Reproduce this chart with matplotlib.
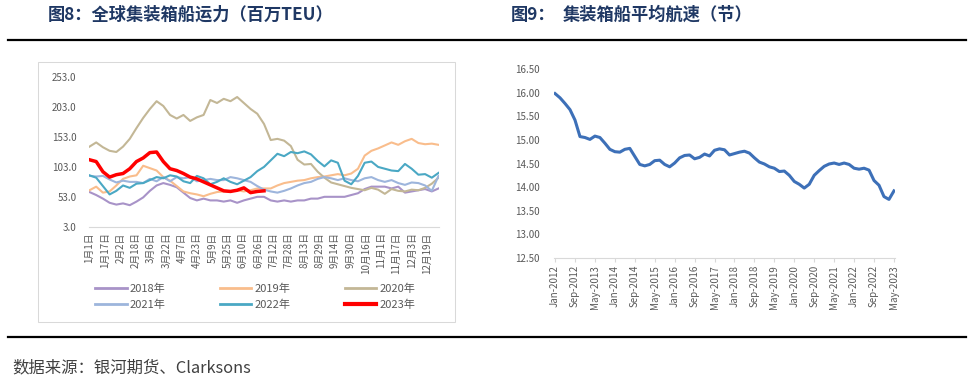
import matplotlib
matplotlib.use('Agg')
import matplotlib.pyplot as plt
from matplotlib.lines import Line2D
from matplotlib.patches import Rectangle
import numpy as np

plt.rcParams['font.family'] = ['Noto Sans CJK SC', 'DejaVu Sans']

# 全球集装箱船运力, weekly readings (百万TEU)
y2018 = [61, 56, 50, 43, 40, 42, 39, 45, 52, 63, 72, 76, 73, 69, 60, 51, 47, 50, 47, 47,
         45, 47, 43, 47, 50, 53, 53, 47, 45, 47, 45, 47, 47, 50, 50, 53, 53, 53, 53, 56,
         59, 66, 70, 70, 70, 67, 70, 60, 62, 64, 66, 62, 67]
y2019 = [64, 70, 60, 62, 72, 83, 87, 89, 105, 101, 97, 86, 80, 71, 62, 59, 57, 54, 58, 61,
         62, 62, 64, 62, 64, 67, 67, 67, 72, 76, 78, 80, 81, 84, 86, 87, 89, 91, 89, 92,
         100, 122, 130, 134, 139, 144, 140, 146, 150, 143, 141, 142, 140]
y2020 = [137, 144, 136, 130, 128, 137, 150, 168, 185, 200, 213, 205, 190, 184, 190, 180,
         186, 190, 215, 210, 217, 213, 220, 210, 200, 192, 175, 148, 150, 147, 138, 115,
         107, 108, 95, 85, 77, 74, 71, 68, 66, 64, 68, 65, 58, 66, 63, 62, 65, 64, 68, 75, 85]
y2021 = [88, 87, 88, 82, 77, 80, 78, 78, 76, 83, 79, 86, 79, 86, 84, 86, 79, 81, 83, 81,
         81, 86, 84, 81, 78, 71, 65, 62, 60, 63, 67, 72, 76, 78, 83, 86, 84, 81, 84, 81,
         79, 84, 86, 81, 78, 81, 76, 73, 77, 76, 72, 63, 88]
y2022 = [89, 85, 71, 57, 63, 72, 68, 75, 76, 81, 86, 84, 89, 87, 79, 76, 88, 84, 74, 78,
         84, 78, 74, 80, 86, 96, 103, 114, 125, 121, 128, 126, 129, 124, 113, 104, 114, 110,
         80, 74, 88, 110, 112, 103, 100, 97, 96, 108, 100, 90, 91, 85, 93]
y2023 = [115, 112, 95, 86, 90, 92, 100, 112, 118, 127, 128, 112, 100, 97, 92, 86, 83, 78,
         73, 68, 63, 62, 64, 68, 60, 62, 63]

day_labels = ['1月1日', '1月17日', '2月2日', '2月18日', '3月6日', '3月22日', '4月7日', '4月23日',
              '5月9日', '5月25日', '6月10日', '6月26日', '7月12日', '7月28日', '8月13日', '8月29日',
              '9月14日', '9月30日', '10月16日', '11月1日', '11月17日', '12月3日', '12月19日']

# 集装箱船平均航速 (节), every second month from Jan-2012
speed = [15.98, 15.89, 15.77, 15.64, 15.42, 15.07, 15.05, 15.01, 15.08, 15.05, 14.93, 14.80,
         14.75, 14.74, 14.80, 14.82, 14.65, 14.48, 14.45, 14.48, 14.56, 14.57, 14.48, 14.43,
         14.51, 14.62, 14.67, 14.68, 14.60, 14.63, 14.70, 14.66, 14.78, 14.81, 14.79, 14.68,
         14.71, 14.74, 14.76, 14.72, 14.62, 14.53, 14.49, 14.43, 14.40, 14.33, 14.34, 14.25,
         14.12, 14.06, 13.98, 14.06, 14.25, 14.35, 14.44, 14.49, 14.51, 14.48, 14.51, 14.48,
         14.40, 14.38, 14.40, 14.36, 14.14, 14.04, 13.80, 13.74, 13.92]
month_labels = ['Jan-2012', 'Sep-2012', 'May-2013', 'Jan-2014', 'Sep-2014', 'May-2015',
                'Jan-2016', 'Sep-2016', 'May-2017', 'Jan-2018', 'Sep-2018', 'May-2019',
                'Jan-2020', 'Sep-2020', 'May-2021', 'Jan-2022', 'Sep-2022', 'May-2023']

W, H = 970, 381
fig = plt.figure(figsize=(W / 100, H / 100), dpi=100)

tick_col = '#595959'
axis_col = '#d9d9d9'
title_col = '#1f3864'

# ---- 图8 ----
ax1 = fig.add_axes([89 / W, 1 - 226.7 / H, 350 / W, 149.4 / H])
series = [
    ('2018年', y2018, '#a893c8', 1.5),
    ('2019年', y2019, '#f9bd8c', 1.5),
    ('2020年', y2020, '#c3b796', 1.5),
    ('2021年', y2021, '#9db5dc', 1.5),
    ('2022年', y2022, '#4aa8c4', 1.5),
    ('2023年', y2023, '#ff0000', 2.5),
]
handles = {}
for name, vals, col, lw in series:
    x = np.arange(len(vals)) * 7
    ax1.plot(x, vals, color=col, lw=lw, solid_joinstyle='round')
    handles[name] = Line2D([], [], color=col, lw=lw + 0.5)

ax1.set_xlim(-0.5, 364.5)
ax1.set_ylim(3, 253)
ax1.set_yticks(np.arange(3, 254, 50))
ax1.set_yticklabels([f'{v:.1f}' for v in np.arange(3, 254, 50)])
ax1.set_xticks(np.arange(len(day_labels)) * 16)
ax1.set_xticklabels(day_labels, rotation=90)
ax1.tick_params(axis='both', length=0, labelsize=7, colors=tick_col)
ax1.tick_params(axis='y', pad=9)
ax1.tick_params(axis='x', pad=4)
for s in ['top', 'right', 'left']:
    ax1.spines[s].set_visible(False)
ax1.spines['bottom'].set_color(axis_col)
ax1.spines['bottom'].set_linewidth(0.8)

# legend row by row: 2018 2019 2020 / 2021 2022 2023
order = ['2018年', '2021年', '2019年', '2022年', '2020年', '2023年']
ax1.legend([handles[k] for k in order], order, ncol=3, loc='upper left',
           bbox_to_anchor=(2 / 350, -0.35), frameon=False, fontsize=8,
           handlelength=2.8, handletextpad=0.3, columnspacing=4.9,
           labelspacing=0.5, labelcolor=tick_col, borderaxespad=0)

# ---- 图9 ----
ax2 = fig.add_axes([553.8 / W, 1 - 258 / H, 341.4 / W, 189 / H])
ax2.plot(np.arange(len(speed)) * 2, speed, color='#3d70b8', lw=2.2, solid_joinstyle='round')
ax2.set_xlim(-0.5, 136.5)
ax2.set_ylim(12.5, 16.5)
ax2.set_yticks(np.arange(12.5, 16.51, 0.5))
ax2.set_yticklabels([f'{v:.2f}' for v in np.arange(12.5, 16.51, 0.5)])
ax2.set_xticks(np.arange(len(month_labels)) * 8)
ax2.set_xticklabels(month_labels, rotation=90)
ax2.tick_params(axis='y', length=0, labelsize=7, colors=tick_col, pad=10)
ax2.tick_params(axis='x', length=3, labelsize=7, colors=tick_col, color=axis_col, pad=2)
for s in ['top', 'right', 'left']:
    ax2.spines[s].set_visible(False)
ax2.spines['bottom'].set_color(axis_col)
ax2.spines['bottom'].set_linewidth(0.8)

# frame round the left chart
fig.add_artist(Rectangle((38 / W, 1 - 322 / H), 417 / W, 260 / H, transform=fig.transFigure,
                         fill=False, edgecolor='#d9d9d9', lw=0.75))

# titles, rules and source
fig.text(48 / W, 1 - 15 / H, '图8：全球集装箱船运力（百万TEU）', fontsize=12.4, fontweight='bold',
         color=title_col, va='center', ha='left')
fig.text(511 / W, 1 - 15 / H, '图9：', fontsize=12.4, fontweight='bold',
         color=title_col, va='center', ha='left')
fig.text(563 / W, 1 - 15 / H, '集装箱船平均航速（节）', fontsize=12.4, fontweight='bold',
         color=title_col, va='center', ha='left')
fig.add_artist(Line2D([8 / W, 966 / W], [1 - 40 / H, 1 - 40 / H], color='black', lw=1.6))
fig.add_artist(Line2D([8 / W, 966 / W], [1 - 337 / H, 1 - 337 / H], color='black', lw=1.6))
fig.text(12 / W, 1 - 368 / H, '数据来源：银河期货、Clarksons', fontsize=11.8, color='#404040',
         va='center', ha='left')

fig.savefig('out.png', dpi=100)
